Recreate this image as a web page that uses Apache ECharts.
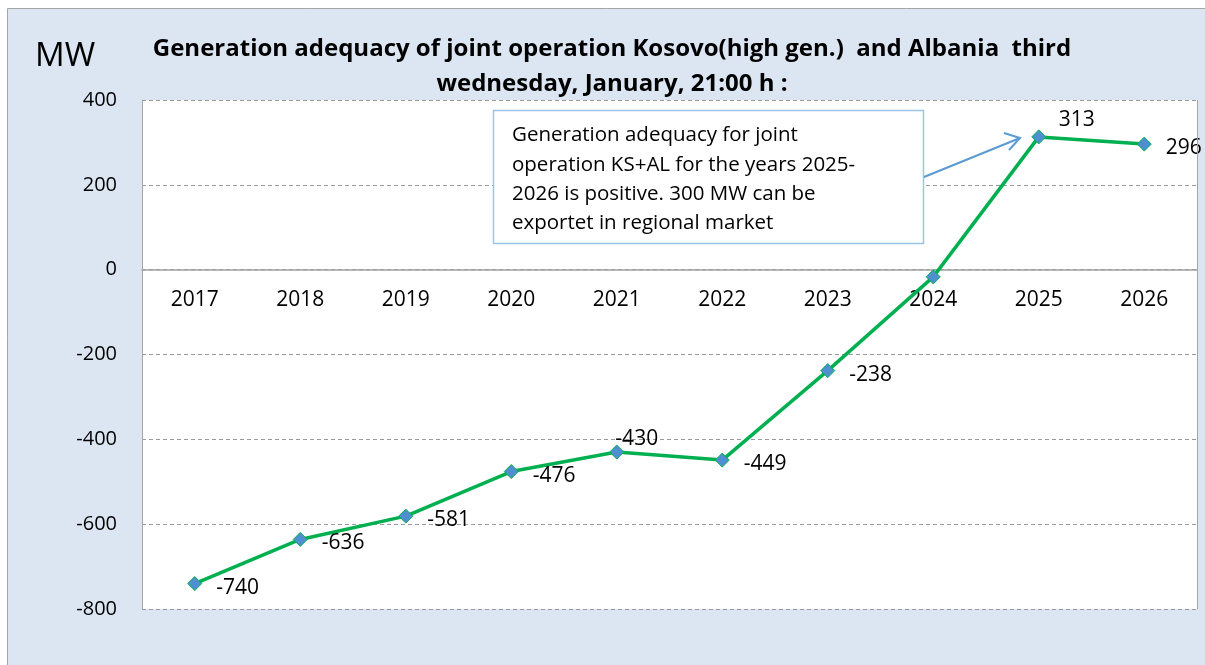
<!DOCTYPE html>
<html>
<head>
<meta charset="utf-8">
<script src="https://cdn.jsdelivr.net/npm/echarts@6/dist/echarts.min.js"></script>
<style>
  html, body { margin: 0; padding: 0; background: #ffffff; }
  #chart { width: 1205px; height: 665px; }
</style>
</head>
<body>
<div id="chart"></div>
<script>
// Joint operation Kosovo + Albania: generation adequacy per year (MW)
const years = ['2017', '2018', '2019', '2020', '2021', '2022', '2023', '2024', '2025', '2026'];
const adequacy = [-740, -636, -581, -476, -430, -449, -238, -17, 313, 296];
// which side of the marker each value label sits on ('' = no label)
const labelSide = ['right', 'right', 'right', 'right', 'top', 'right', 'right', '', 'topRight', 'right'];
const yTicks = { min: -800, max: 400, step: 200 };

const FONT = '"Open Sans", Lato, sans-serif';

const GRID = { left: 142, right: 8, top: 100, bottom: 56 };
const CHART_H = 665;
const plotH = CHART_H - GRID.top - GRID.bottom;
// the category axis sits on the value 0 line
const zeroShift = -plotH * (0 - yTicks.min) / (yTicks.max - yTicks.min);

const points = adequacy.map((v, i) => {
  const side = labelSide[i];
  const item = { value: v };
  if (!side) {
    item.label = { show: false };
  } else if (side === 'top') {
    item.label = { position: 'top', distance: 0, offset: [20, 5] };
  } else if (side === 'topRight') {
    item.label = { position: 'top', distance: 0, offset: [38, 1] };
  } else {
    item.label = { position: 'right', distance: 14, offset: [0, 4] };
  }
  return item;
});

const chart = echarts.init(document.getElementById('chart'), null, { renderer: 'canvas' });
chart.setOption({
  animation: false,
  backgroundColor: '#ffffff',
  textStyle: { fontFamily: FONT },
  grid: Object.assign({ show: true, backgroundColor: '#ffffff', borderWidth: 0 }, GRID),
  graphic: [
    // outer chart frame
    { type: 'rect', z: -10, silent: true, shape: { x: 7.5, y: 8.5, width: 1210, height: 670 },
      style: { fill: '#dce6f2', stroke: '#a6a6a6', lineWidth: 1 } },
    // right edge of the plot area
    { type: 'line', z: 5, silent: true, shape: { x1: 1197.5, y1: 100, x2: 1197.5, y2: 609 },
      style: { stroke: '#a6a6a6', lineWidth: 1 } },
    { type: 'text', z: 10, x: 35, y: 57, silent: true,
      style: { text: 'MW', fontFamily: FONT, fontSize: 33, fill: '#000', verticalAlign: 'middle' } },
    // the unit caption is cut off along its lower edge
    { type: 'rect', z: 11, silent: true, shape: { x: 20, y: 66.5, width: 100, height: 14 },
      style: { fill: '#dce6f2' } },
    { type: 'text', z: 10, x: 612, y: 49, silent: true,
      style: { text: 'Generation adequacy of joint operation Kosovo(high gen.)  and Albania  third',
               fontFamily: FONT, fontSize: 24, fontWeight: 'bold', fill: '#000', align: 'center', verticalAlign: 'middle' } },
    { type: 'text', z: 10, x: 612, y: 84, silent: true,
      style: { text: 'wednesday, January, 21:00 h :',
               fontFamily: FONT, fontSize: 24, fontWeight: 'bold', fill: '#000', align: 'center', verticalAlign: 'middle' } },
    // call-out box
    { type: 'rect', z: 20, silent: true, shape: { x: 493.5, y: 110.5, width: 430, height: 133 },
      style: { fill: '#ffffff', stroke: '#9dc3e6', lineWidth: 1.5 } },
    { type: 'text', z: 21, x: 512, y: 121, silent: true,
      style: { text: 'Generation adequacy for joint\noperation KS+AL for the years 2025-\n2026 is positive. 300 MW can be\nexportet in regional market',
               fontFamily: FONT, fontSize: 20.5, fill: '#000', lineHeight: 29.3 } },
    // arrow from the call-out to 2025
    { type: 'line', z: 21, silent: true, shape: { x1: 924, y1: 177, x2: 1020, y2: 138 },
      style: { stroke: '#5b9bd5', lineWidth: 2 } },
    { type: 'polyline', z: 21, silent: true, shape: { points: [[1004, 133], [1020, 138], [1009, 150]] },
      style: { stroke: '#5b9bd5', lineWidth: 2, fill: null } }
  ],
  xAxis: {
    type: 'category',
    data: years,
    boundaryGap: true,
    offset: zeroShift,
    axisLine: { onZero: false, lineStyle: { color: '#a0a0a0', width: 1.5 } },
    axisTick: { show: false },
    axisLabel: { fontSize: 21, color: '#000', margin: 20, fontFamily: FONT },
    splitLine: { show: false }
  },
  yAxis: {
    type: 'value',
    min: yTicks.min,
    max: yTicks.max,
    interval: yTicks.step,
    axisLine: { show: true, lineStyle: { color: '#a6a6a6', width: 1 } },
    axisTick: { show: false },
    axisLabel: { fontSize: 20, color: '#000', margin: 25, fontFamily: FONT },
    splitLine: { lineStyle: { color: '#9a9a9a', type: [4, 3], width: 1 } }
  },
  series: [{
    type: 'line',
    data: points,
    symbol: 'diamond',
    symbolSize: 14,
    lineStyle: { color: '#00b050', width: 3.5 },
    itemStyle: { color: '#4f8fd0', borderColor: '#00b050', borderWidth: 1 },
    label: { show: true, fontSize: 21, color: '#000', fontFamily: FONT },
    z: 3
  }]
});
</script>
</body>
</html>
